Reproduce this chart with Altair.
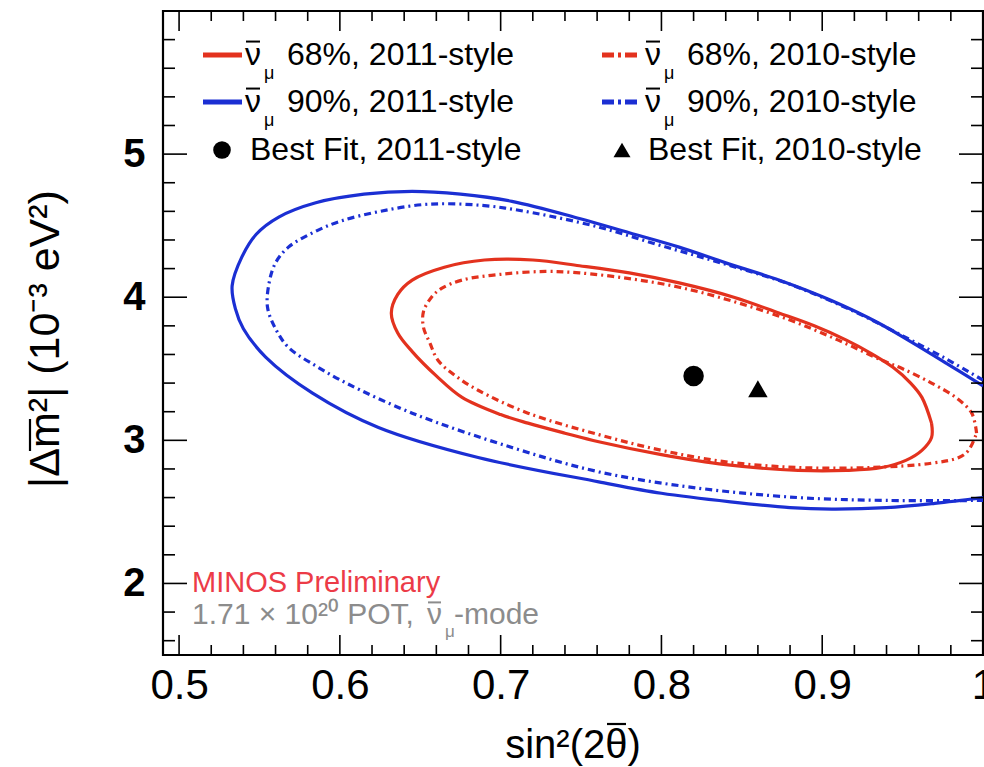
import altair as alt
import pandas as pd

# Axis ranges
X_MIN, X_MAX = 0.49, 1.0
Y_MIN, Y_MAX = 1.5, 6.0

# 90% C.L. contour, 2011-style fit (solid blue)
c90_2011_x = [1.000, 0.977, 0.955, 0.935, 0.905, 0.873, 0.840, 0.811, 0.780, 0.749,
              0.707, 0.675, 0.645, 0.615, 0.585, 0.562, 0.548, 0.539, 0.533, 0.535,
              0.540, 0.554, 0.583, 0.624, 0.686, 0.761, 0.800, 0.843, 0.880, 0.906,
              0.940, 0.970, 1.000]
c90_2011_y = [3.38, 3.54, 3.69, 3.82, 3.98, 4.12, 4.24, 4.35, 4.45, 4.55,
              4.67, 4.72, 4.74, 4.72, 4.66, 4.56, 4.44, 4.28, 4.08, 3.92,
              3.78, 3.58, 3.33, 3.09, 2.88, 2.71, 2.63, 2.57, 2.53, 2.52,
              2.53, 2.56, 2.60]

# 90% C.L. contour, 2010-style fit (dash-dot blue)
c90_2010_x = [1.000, 0.977, 0.950, 0.920, 0.880, 0.840, 0.800, 0.761, 0.720, 0.690,
              0.655, 0.625, 0.600, 0.583, 0.568, 0.560, 0.556, 0.555, 0.560, 0.568,
              0.585, 0.604, 0.645, 0.707, 0.761, 0.820, 0.885, 0.940, 1.000]
c90_2010_y = [3.42, 3.57, 3.73, 3.90, 4.09, 4.23, 4.36, 4.49, 4.59, 4.64,
              4.65, 4.60, 4.53, 4.45, 4.35, 4.24, 4.10, 3.93, 3.78, 3.65,
              3.52, 3.40, 3.19, 2.95, 2.78, 2.67, 2.60, 2.58, 2.58]

# 68% C.L. contour, 2011-style fit (solid red)
c68_2011_x = [0.968, 0.962, 0.955, 0.944, 0.930, 0.915, 0.895, 0.873, 0.845, 0.811,
              0.780, 0.749, 0.720, 0.690, 0.665, 0.645, 0.636, 0.632, 0.636, 0.645,
              0.660, 0.676, 0.700, 0.717, 0.740, 0.761, 0.800, 0.840, 0.885, 0.915,
              0.937, 0.952, 0.962, 0.968, 0.968]
c68_2011_y = [3.12, 3.30, 3.40, 3.51, 3.61, 3.70, 3.80, 3.89, 4.00, 4.10,
              4.17, 4.22, 4.26, 4.26, 4.21, 4.12, 4.02, 3.89, 3.75, 3.62,
              3.45, 3.30, 3.18, 3.12, 3.05, 2.99, 2.90, 2.83, 2.79, 2.79,
              2.81, 2.86, 2.93, 3.02, 3.12]

# 68% C.L. contour, 2010-style fit (dash-dot red)
c68_2010_x = [0.996, 0.993, 0.983, 0.968, 0.950, 0.937, 0.910, 0.880, 0.845, 0.811,
              0.780, 0.749, 0.728, 0.700, 0.676, 0.663, 0.657, 0.652, 0.652, 0.656,
              0.661, 0.672, 0.686, 0.717, 0.761, 0.800, 0.840, 0.885, 0.930, 0.968,
              0.985, 0.991, 0.996]
c68_2010_y = [3.05, 3.19, 3.30, 3.40, 3.50, 3.56, 3.70, 3.84, 3.97, 4.07,
              4.13, 4.17, 4.18, 4.16, 4.12, 4.06, 4.00, 3.90, 3.79, 3.68,
              3.56, 3.45, 3.35, 3.19, 3.04, 2.93, 2.85, 2.81, 2.81, 2.84,
              2.88, 2.93, 3.05]

# Best-fit points (sin^2, dm^2)
best_2011 = [0.82, 3.45]
best_2010 = [0.86, 3.36]

# Tick positions
x_major = [0.5, 0.6, 0.7, 0.8, 0.9, 1.0]
x_minor = [round(0.5 + 0.02 * k, 2) for k in range(1, 25) if k % 5]
y_major = [2, 3, 4, 5]
y_minor = [round(1.6 + 0.2 * k, 1) for k in range(22) if round(1.6 + 0.2 * k, 1) % 1]

NU = "\u03bd"
MU = "\u03bc"
leg_left = ["68%, 2011-style", "90%, 2011-style", "Best Fit, 2011-style"]
leg_right = ["68%, 2010-style", "90%, 2010-style", "Best Fit, 2010-style"]

RED = "#e3321e"
BLUE = "#1b2fd3"
GREY = "#8c8c8c"
FONT = "Liberation Sans"
W, H = 820, 644
DASH = [7, 4, 2, 4]

xs = alt.Scale(domain=[X_MIN, X_MAX], nice=False, zero=False)
ys = alt.Scale(domain=[Y_MIN, Y_MAX], nice=False, zero=False)

XAX = alt.Axis(values=x_major, format="~g", ticks=False, domain=False, grid=False,
               labelFontSize=42, labelFont=FONT, labelColor="black",
               labelPadding=10, title=None, labelFlush=False)
YAX = alt.Axis(values=y_major, format="d", ticks=False, domain=False, grid=False,
               labelFontSize=40, labelFont=FONT, labelColor="black",
               labelFontWeight="bold", labelPadding=18, title=None)

one = pd.DataFrame({"k": [0]})


def contour(xv, yv, color, dash=None):
    df = pd.DataFrame({"x": xv, "y": yv, "i": list(range(len(xv)))})
    kw = dict(color=color, strokeWidth=3.2, clip=True, strokeJoin="round",
              interpolate="catmull-rom")
    if dash:
        kw["strokeDash"] = dash
    return alt.Chart(df).mark_line(**kw).encode(
        x=alt.X("x:Q", scale=xs, axis=XAX),
        y=alt.Y("y:Q", scale=ys, axis=YAX),
        order="i:Q",
    )


def xticks(vals, top, length):
    df = pd.DataFrame({"v": vals})
    y0 = 0 if top else H
    y1 = length if top else H - length
    return alt.Chart(df).mark_rule(color="black", strokeWidth=1.6).encode(
        x=alt.X("v:Q", scale=xs, axis=XAX), y=alt.value(y0), y2=alt.value(y1))


def yticks(vals, right, length):
    df = pd.DataFrame({"v": vals})
    x0 = W if right else 0
    x1 = W - length if right else length
    return alt.Chart(df).mark_rule(color="black", strokeWidth=1.6).encode(
        y=alt.Y("v:Q", scale=ys, axis=YAX), x=alt.value(x0), x2=alt.value(x1))


def text(s, x, y, size, color="black", align="left", baseline="middle", angle=0):
    kw = dict(text=s, font=FONT, fontSize=size, color=color, align=align, baseline=baseline)
    if angle:
        kw["angle"] = angle
    return alt.Chart(one).mark_text(**kw).encode(x=alt.value(x), y=alt.value(y))


def bar(x0, x1, y0, y1, color="black", width=2):
    # short straight stroke used for overbars
    return alt.Chart(one).mark_rule(color=color, strokeWidth=width).encode(
        x=alt.value(x0), x2=alt.value(x1), y=alt.value(y0), y2=alt.value(y1))


def sample(x0, x1, y, color, dash=None):
    kw = dict(color=color, strokeWidth=5)
    if dash:
        kw["strokeDash"] = dash
    return alt.Chart(one).mark_rule(**kw).encode(
        x=alt.value(x0), x2=alt.value(x1), y=alt.value(y))


def best(pt, shape, size):
    df = pd.DataFrame({"x": [pt[0]], "y": [pt[1]]})
    return alt.Chart(df).mark_point(shape=shape, size=size, filled=True, color="black",
                                    opacity=1).encode(
        x=alt.X("x:Q", scale=xs, axis=XAX), y=alt.Y("y:Q", scale=ys, axis=YAX))


def nubar_mu(x0, y, size, sub, color="black"):
    # anti-neutrino symbol: nu with an overbar and a mu subscript
    w = 0.5 * size
    return [
        text(NU, x0, y, size, color=color),
        bar(x0 + 1, x0 + w - 1, y - 0.42 * size, y - 0.42 * size, color=color, width=2),
        text(MU, x0 + w + 3, y + 0.58 * size, sub, color=color),
    ]


layers = [
    contour(c90_2011_x, c90_2011_y, BLUE),
    contour(c90_2010_x, c90_2010_y, BLUE, dash=DASH),
    contour(c68_2011_x, c68_2011_y, RED),
    contour(c68_2010_x, c68_2010_y, RED, dash=DASH),
    best(best_2011, "circle", 420),
    best(best_2010, "triangle-up", 380),
    xticks(x_major, False, 20), xticks(x_minor, False, 10),
    xticks(x_major, True, 20), xticks(x_minor, True, 10),
    yticks(y_major, False, 24), yticks(y_minor, False, 12),
    yticks(y_major, True, 24), yticks(y_minor, True, 12),
]

# Legend
rows = [44, 91, 139]
LEG = 32
for r, c in enumerate([RED, BLUE]):
    layers.append(sample(40, 79, rows[r], c))
    layers.append(sample(439, 474, rows[r], c, dash=[12, 4, 3, 4]))
    for x0 in (82, 482):
        layers += nubar_mu(x0, rows[r], LEG, 18)
    layers.append(text(leg_left[r], 124, rows[r], LEG))
    layers.append(text(leg_right[r], 524, rows[r], LEG))

layers.append(alt.Chart(one).mark_point(shape="circle", size=310, filled=True, color="black",
                                        opacity=1).encode(x=alt.value(59), y=alt.value(rows[2])))
layers.append(alt.Chart(one).mark_point(shape="triangle-up", size=290, filled=True, color="black",
                                        opacity=1).encode(x=alt.value(459), y=alt.value(rows[2])))
layers.append(text(leg_left[2], 87, rows[2], LEG))
layers.append(text(leg_right[2], 485, rows[2], LEG))

# Experiment labels
layers.append(text("MINOS Preliminary", 29, 572, 29, color="#ec3b47"))
layers.append(text("1.71 \u00d7 10\u00b2\u2070 POT,", 29, 604, 30, color=GREY))
layers += nubar_mu(264, 604, 30, 17, color=GREY)
layers.append(text("-mode", 291, 604, 30, color=GREY))

# Axis titles (overbars drawn as short strokes)
layers.append(text("sin\u00b2(2\u03b8)", 410, 747, 40, align="center", baseline="alphabetic"))
layers.append(bar(444, 463, 713, 713, width=2.2))
layers.append(text("|\u0394m\u00b2| (10\u207b\u00b3 eV\u00b2)", -117, 328, 43,
                   align="center", baseline="middle", angle=270))
layers.append(bar(-133, -133, 440, 408, width=2.2))

chart = alt.layer(*layers).properties(
    width=W, height=H,
    autosize=alt.AutoSizeParams(type="none"),
    padding={"left": 163, "top": 11, "right": 1, "bottom": 112},
).configure_view(stroke="black", strokeWidth=2.2)

chart.save("out.html", embed_options={"renderer": "svg", "actions": False})
